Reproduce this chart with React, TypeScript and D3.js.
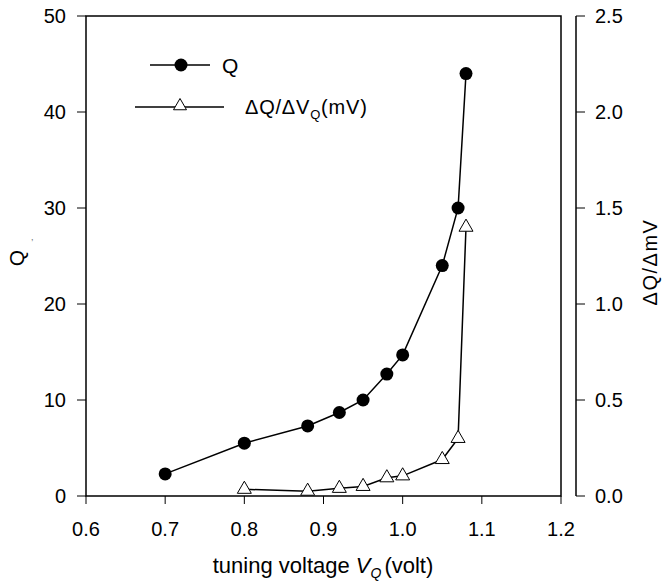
import React from "react";
import * as d3 from "d3";

// tuning voltage (volt)
const voltQ = [0.7, 0.8, 0.88, 0.92, 0.95, 0.98, 1.0, 1.05, 1.07, 1.08];
const qValues = [2.3, 5.5, 7.3, 8.7, 10.0, 12.7, 14.7, 24.0, 30.0, 44.0];

const voltD = [0.8, 0.88, 0.92, 0.95, 0.98, 1.0, 1.05, 1.07, 1.08];
const dqValues = [0.035, 0.025, 0.04, 0.05, 0.095, 0.105, 0.19, 0.3, 1.4];

const xTicks = [0.6, 0.7, 0.8, 0.9, 1.0, 1.1, 1.2];
const yTicks = [0, 10, 20, 30, 40, 50];
const y2Ticks = [0, 0.5, 1.0, 1.5, 2.0, 2.5];

const FONT = "'Liberation Sans', Arial, Helvetica, sans-serif";

function triPath(cx: number, cy: number, s: number) {
  const h = (s * Math.sqrt(3)) / 2;
  return `M${cx},${cy - (2 * h) / 3}L${cx + s / 2},${cy + h / 3}L${cx - s / 2},${cy + h / 3}Z`;
}

export default function App() {
  const width = 664;
  const height = 587;
  const left = 86;
  const right = 561;
  const top = 16;
  const bottom = 496;
  const axis2 = 576;

  const x = d3.scaleLinear().domain([0.6, 1.2]).range([left, right]);
  const y = d3.scaleLinear().domain([0, 50]).range([bottom, top]);
  const y2 = d3.scaleLinear().domain([0, 2.5]).range([bottom, top]);

  const qLine = d3
    .line<number>()
    .x((d, i) => x(voltQ[i]))
    .y(d => y(d));
  const dLine = d3
    .line<number>()
    .x((d, i) => x(voltD[i]))
    .y(d => y2(d));

  return (
    <svg
      width={width}
      height={height}
      style={{ position: "absolute", left: 0, top: 0, background: "#fff" }}
      fontFamily={FONT}
    >
      {/* frame */}
      <path
        d={`M${left},${bottom}V${top}H${right}V${bottom}Z`}
        fill="none"
        stroke="#000"
        strokeWidth={1.5}
      />
      {/* left axis ticks */}
      {yTicks.map(t => (
        <g key={"y" + t}>
          <line x1={left - 9} x2={left} y1={y(t)} y2={y(t)} stroke="#000" strokeWidth={1} />
          <text x={66} y={y(t) + 7} fontSize={20} textAnchor="end">
            {t}
          </text>
        </g>
      ))}
      {/* x axis ticks */}
      {xTicks.map(t => (
        <g key={"x" + t}>
          <line x1={x(t)} x2={x(t)} y1={bottom} y2={bottom + 8} stroke="#000" strokeWidth={1} />
          <text x={x(t)} y={536} fontSize={20} textAnchor="middle">
            {t.toFixed(1)}
          </text>
        </g>
      ))}
      {/* right axis */}
      <line x1={axis2} x2={axis2} y1={top} y2={bottom} stroke="#000" strokeWidth={1.5} />
      {y2Ticks.map(t => (
        <g key={"y2" + t}>
          <line x1={axis2} x2={axis2 + 9} y1={y2(t)} y2={y2(t)} stroke="#000" strokeWidth={1} />
          <text x={595} y={y2(t) + 7} fontSize={20} textAnchor="start">
            {t.toFixed(1)}
          </text>
        </g>
      ))}

      {/* series */}
      <path d={qLine(qValues) || ""} fill="none" stroke="#000" strokeWidth={1.5} />
      {qValues.map((d, i) => (
        <circle key={"c" + i} cx={x(voltQ[i])} cy={y(d)} r={6.5} fill="#000" />
      ))}
      <path d={dLine(dqValues) || ""} fill="none" stroke="#000" strokeWidth={1.5} />
      {dqValues.map((d, i) => (
        <path
          key={"t" + i}
          d={triPath(x(voltD[i]), y2(d), 14)}
          fill="#fff"
          stroke="#000"
          strokeWidth={1}
        />
      ))}

      {/* legend */}
      <line x1={150} x2={210} y1={65} y2={65} stroke="#000" strokeWidth={1.5} />
      <circle cx={181} cy={65} r={6.5} fill="#000" />
      <text x={222} y={73} fontSize={21}>
        Q
      </text>
      <line x1={135} x2={224} y1={107} y2={107} stroke="#000" strokeWidth={1.5} />
      <path d={triPath(180, 106, 13)} fill="#fff" stroke="#000" strokeWidth={1} />
      <text x={245} y={114} fontSize={20} letterSpacing={0.8}>
        ΔQ/ΔV
        <tspan fontSize={13} dy={5}>
          Q
        </tspan>
        <tspan dy={-5}>(mV)</tspan>
      </text>

      {/* axis titles */}
      <text transform="translate(24,258) rotate(-90)" fontSize={21} textAnchor="middle">
        Q
      </text>
      <text x={31} y={240} fontSize={9} fill="#666">
        ,
      </text>
      <text
        transform="translate(657,262) rotate(-90)"
        fontSize={20}
        letterSpacing={1.5}
        textAnchor="middle"
      >
        ΔQ/ΔmV
      </text>
      <text x={323} y={573} fontSize={22} textAnchor="middle">
        tuning voltage{" "}
        <tspan fontStyle="italic">V</tspan>
        <tspan fontStyle="italic" fontSize={14} dy={5}>
          Q
        </tspan>
        <tspan dy={-5} dx={3}>
          (volt)
        </tspan>
      </text>
    </svg>
  );
}
